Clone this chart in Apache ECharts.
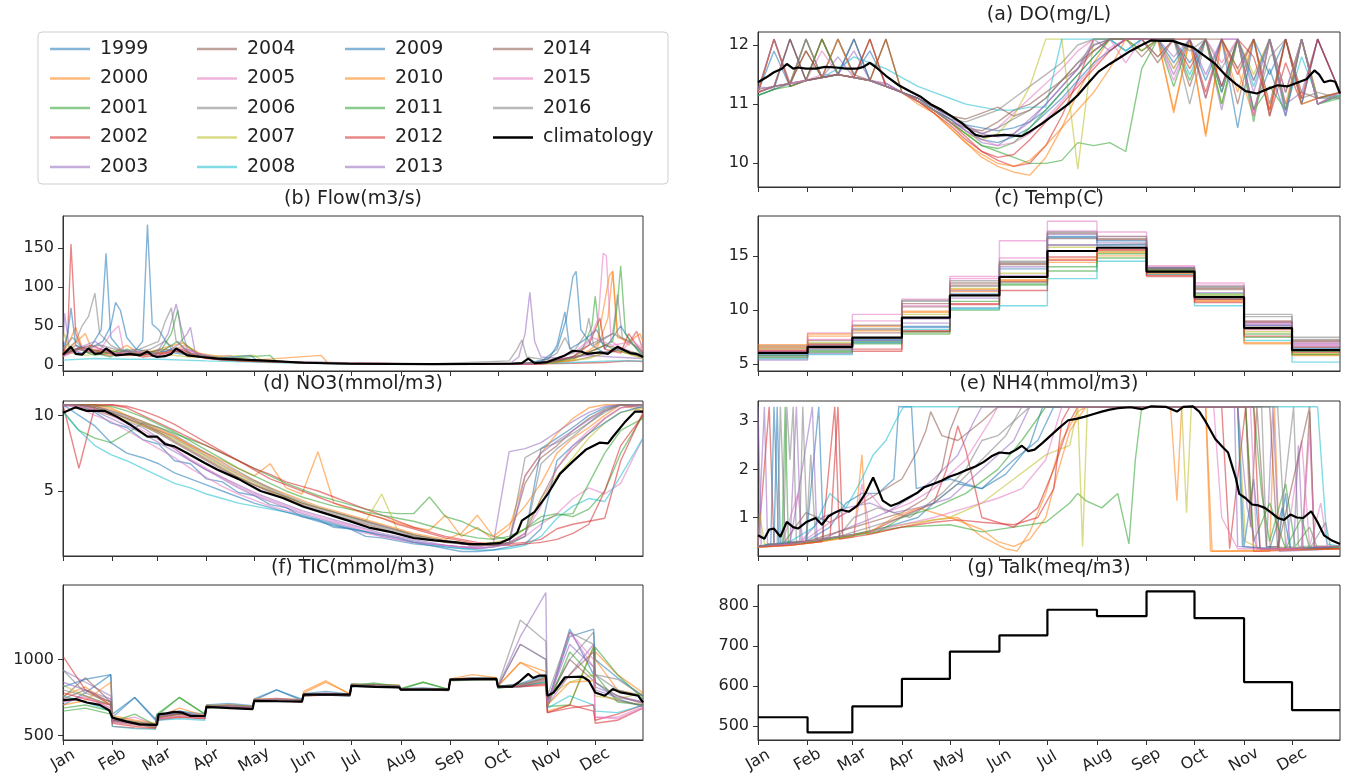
<!DOCTYPE html>
<html>
<head>
<meta charset="utf-8">
<script src="https://cdn.jsdelivr.net/npm/echarts@6/dist/echarts.min.js"></script>
<style>
  html, body { margin: 0; padding: 0; background: #fff; }
  #chart { width: 1345px; height: 780px; }
</style>
</head>
<body>
<div id="chart"></div>
<script>
// ---------- calendar ----------
const MONTHS = ['Jan','Feb','Mar','Apr','May','Jun','Jul','Aug','Sep','Oct','Nov','Dec'];
const MONTH_START = [0,31,59,90,120,151,181,212,243,273,304,334];
const YEARS = ['1999','2000','2001','2002','2003','2004','2005','2006','2007','2008',
               '2009','2010','2011','2012','2013','2014','2015','2016'];

// ---------- (a) DO (mg/L): one value every 10 days (days 0..350, 364) ----------
const doYears = [
  [11.2,11.9,11.3,12.1,11.45,12.1,11.5,11.9,11.35,11.2,11.1,10.95,10.8,10.65,10.6,10.55,10.6,10.7,10.9,11.2,11.5,11.8,12.1,11.9,12.1,12.1,12.1,11.7,12.1,11.3,12.1,10.9,11.6,10.8,12.1,11.0,11.15],
  [11.2,11.3,12.1,11.4,12.1,11.5,11.45,12.1,11.3,11.2,11.0,10.85,10.6,10.35,10.1,9.95,9.85,9.8,10.1,10.6,11.2,11.7,12.1,12.1,11.9,12.1,10.9,12.1,10.5,12.1,11.6,10.8,12.1,11.0,12.1,11.1,11.2],
  [11.15,11.25,11.35,11.9,11.45,11.5,12.1,11.4,11.3,11.2,11.05,10.9,10.7,10.5,10.3,10.2,10.1,10.0,10.0,10.05,10.35,10.3,10.35,10.2,11.6,12.1,12.1,11.4,12.1,11.2,12.1,10.9,11.3,10.9,12.1,11.0,11.15],
  [11.2,12.1,11.3,11.4,12.1,11.5,11.45,11.4,12.1,11.2,11.05,10.9,10.7,10.45,10.2,10.05,9.95,10.0,10.3,10.8,11.4,12.1,12.1,12.1,12.1,11.8,12.1,12.1,11.2,12.1,11.5,12.1,10.8,11.7,11.0,12.1,11.2],
  [11.3,11.25,11.35,12.1,11.45,11.5,11.9,11.4,11.35,11.2,11.1,10.95,10.75,10.55,10.35,10.3,10.5,10.75,11.0,11.3,11.6,12.1,11.9,12.1,12.1,12.1,11.5,12.1,12.1,10.9,12.1,11.4,12.1,11.0,11.2,12.1,11.2],
  [11.2,12.1,11.3,11.4,11.45,12.1,11.5,11.4,11.3,11.2,11.05,10.9,10.7,10.6,10.55,10.7,10.9,11.0,11.2,11.4,11.6,11.9,12.1,12.1,11.8,12.1,12.1,11.3,12.1,12.1,11.0,12.1,10.8,12.1,11.0,11.1,11.2],
  [11.25,11.3,12.1,11.4,11.5,11.5,12.1,11.4,11.35,11.2,11.05,10.9,10.75,10.6,10.5,10.6,10.85,11.1,11.35,11.6,11.9,12.1,12.1,11.7,12.1,12.1,11.6,12.1,11.1,12.1,12.1,10.8,12.1,11.2,12.1,11.0,11.2],
  [11.2,11.3,11.35,11.4,12.1,11.5,11.45,12.1,11.3,11.2,11.05,10.9,10.75,10.7,10.8,10.9,11.1,11.3,11.5,11.7,12.0,12.1,12.1,12.1,12.1,11.8,12.1,11.0,12.1,11.6,12.1,10.9,11.8,12.1,11.1,11.2,11.1],
  [11.2,11.3,11.35,12.1,11.45,11.5,11.45,11.4,12.1,11.2,11.05,10.9,10.7,10.5,10.4,10.5,10.8,11.3,12.1,12.1,9.9,12.1,12.1,12.1,12.1,12.1,11.6,12.1,12.1,11.0,12.1,11.5,12.1,10.9,12.1,11.1,11.15],
  [11.2,11.3,11.35,11.4,11.45,11.6,11.8,11.7,11.6,11.45,11.3,11.2,11.1,11.0,10.95,10.9,10.9,10.95,10.95,12.1,12.1,12.1,12.1,11.9,12.1,12.1,12.1,11.5,12.1,11.2,12.1,11.3,12.1,10.9,11.8,11.1,11.15],
  [11.15,11.25,12.1,11.4,11.45,11.5,12.1,11.4,11.3,11.2,11.1,10.9,10.75,10.55,10.4,10.35,10.45,10.6,10.85,11.1,11.4,11.7,11.9,12.1,12.1,12.1,11.7,12.1,11.4,12.1,10.6,12.1,11.5,12.1,11.0,12.1,11.2],
  [11.2,12.1,11.35,11.4,11.45,12.1,11.45,11.4,11.3,11.2,11.05,10.85,10.6,10.35,10.15,10.0,9.95,10.05,10.3,10.6,10.9,11.2,11.6,12.1,12.1,12.1,10.85,12.1,10.45,12.1,11.2,12.1,10.9,12.1,11.0,11.1,11.2],
  [11.15,11.25,11.3,11.4,12.1,11.5,11.45,11.4,11.3,11.2,11.05,10.9,10.7,10.5,10.3,10.25,10.35,10.6,10.9,11.2,11.5,11.8,12.1,12.1,11.9,12.1,11.3,12.1,12.1,11.0,12.1,10.7,12.1,11.2,12.1,11.0,11.1],
  [11.2,11.3,11.35,11.9,11.45,11.5,11.45,12.1,11.3,11.2,11.05,10.85,10.65,10.4,10.2,10.1,10.15,10.4,10.7,11.0,11.3,11.6,11.9,12.1,12.1,12.1,12.1,11.6,12.1,11.3,12.1,11.8,10.9,12.1,11.1,12.1,11.2],
  [11.25,12.1,11.35,11.4,11.45,11.8,11.45,11.4,11.3,11.2,11.1,10.95,10.8,10.65,10.5,10.45,10.5,10.7,11.0,11.3,11.6,12.0,12.1,12.1,12.1,12.1,11.8,12.1,11.5,12.1,12.1,11.2,12.1,10.8,12.1,11.0,11.2],
  [11.2,11.3,12.1,11.4,11.45,11.5,11.45,11.4,12.1,11.2,11.1,10.95,10.8,10.75,10.85,10.95,10.8,10.9,11.1,11.4,11.7,11.9,12.1,12.1,12.1,11.7,12.1,12.1,11.1,12.1,11.6,12.1,11.0,12.1,11.2,11.1,11.2],
  [11.2,11.3,11.35,11.4,11.9,11.5,11.45,11.4,11.3,11.2,11.05,10.9,10.7,10.55,10.4,10.3,10.35,10.5,10.75,11.05,11.35,11.65,11.95,12.1,12.1,12.1,11.4,12.1,12.1,11.7,12.1,10.8,12.1,11.2,12.1,11.0,11.2],
  [11.25,11.3,11.35,12.1,11.45,11.5,11.45,11.4,11.3,11.2,11.1,10.95,10.8,10.6,10.5,10.6,10.75,10.9,11.1,11.4,11.7,12.0,12.1,12.1,12.1,12.1,12.1,11.9,12.1,11.2,12.1,11.4,12.1,10.9,12.1,11.1,11.1]
];
const doClim = [[0,11.37],[5,11.45],[10,11.54],[15,11.6],[18,11.68],[22,11.6],[25,11.62],[30,11.6],[36,11.6],[42,11.63],[49,11.62],[55,11.6],[62,11.6],[66,11.63],[70,11.7],[74,11.62],[80,11.48],[88,11.32],[95,11.22],[102,11.12],[108,11.0],[115,10.9],[122,10.78],[128,10.67],[133,10.55],[136,10.48],[141,10.45],[148,10.47],[154,10.48],[160,10.47],[165,10.46],[169,10.52],[173,10.59],[178,10.68],[183,10.78],[188,10.88],[194,11.0],[200,11.15],[207,11.37],[213,11.55],[220,11.68],[226,11.78],[233,11.9],[240,12.0],[246,12.08],[252,12.07],[259,12.07],[265,12.02],[272,11.96],[279,11.82],[286,11.68],[292,11.5],[299,11.34],[305,11.22],[312,11.18],[318,11.25],[325,11.32],[331,11.3],[338,11.37],[343,11.42],[348,11.57],[351,11.5],[354,11.37],[358,11.4],[361,11.38],[364,11.18]];

// ---------- (b) Flow (m3/s): [day, value] pairs ----------
const flowYears = [
  [[0,12],[6,18],[12,14],[18,25],[24,45],[27,143],[30,35],[36,20],[44,15],[50,30],[53,180],[56,52],[60,45],[64,32],[70,15],[80,12],[95,8],[120,5],[160,2],[220,1],[285,1],[300,4],[310,20],[316,60],[320,113],[322,120],[325,45],[332,25],[340,15],[350,20],[364,10]],
  [[0,15],[4,30],[8,48],[12,22],[20,18],[30,14],[40,25],[50,12],[60,20],[75,28],[85,15],[100,10],[120,6],[162,12],[166,3],[200,1],[285,1],[305,3],[320,8],[335,20],[342,60],[345,120],[348,40],[355,25],[360,43],[364,20]],
  [[0,12],[10,20],[20,15],[30,10],[40,20],[50,12],[60,15],[72,30],[80,12],[100,8],[130,12],[134,4],[170,2],[230,1],[290,1],[310,3],[325,15],[332,50],[334,88],[337,30],[345,20],[355,15],[364,10]],
  [[0,10],[3,40],[5,155],[8,40],[12,20],[20,15],[30,12],[40,18],[50,10],[60,12],[75,20],[85,10],[100,6],[130,4],[180,2],[240,1],[295,1],[320,2],[340,3],[355,5],[364,4]],
  [[0,25],[1,66],[4,20],[12,15],[24,20],[36,12],[48,15],[60,12],[72,25],[78,40],[80,48],[83,15],[100,8],[140,4],[200,1],[280,1],[286,10],[290,40],[293,93],[296,30],[300,10],[315,8],[330,12],[345,10],[364,8]],
  [[0,12],[8,25],[16,15],[28,20],[40,12],[56,15],[70,18],[85,10],[110,6],[150,3],[210,1],[290,1],[320,5],[335,12],[348,18],[364,10]],
  [[0,10],[10,20],[22,15],[30,40],[35,50],[38,18],[50,12],[62,15],[75,22],[90,10],[105,12],[110,6],[150,3],[220,1],[300,2],[320,10],[330,30],[336,60],[339,143],[341,140],[344,30],[352,20],[360,43],[364,18]],
  [[0,15],[8,30],[12,50],[16,62],[20,92],[23,40],[30,25],[40,15],[55,20],[64,30],[72,18],[85,10],[110,5],[160,2],[230,1],[280,5],[285,20],[288,32],[291,10],[305,6],[320,15],[335,30],[345,40],[348,90],[351,35],[358,25],[364,15]],
  [[0,30],[1,40],[5,15],[15,12],[30,18],[45,12],[60,14],[80,10],[120,12],[126,4],[160,2],[230,1],[300,1],[330,8],[345,20],[364,8]],
  [[0,6],[20,8],[40,7],[60,7],[90,5],[130,3],[200,1],[290,1],[320,3],[345,5],[364,5]],
  [[0,20],[3,40],[5,73],[8,25],[16,20],[25,30],[30,50],[33,80],[36,70],[40,35],[46,20],[58,15],[70,20],[80,12],[95,8],[118,12],[122,5],[160,2],[230,1],[290,1],[305,8],[310,25],[315,68],[318,20],[326,30],[335,45],[340,20],[350,50],[356,30],[364,12]],
  [[0,15],[6,25],[14,40],[18,20],[28,15],[40,12],[52,18],[64,15],[76,25],[90,10],[110,5],[160,2],[240,1],[300,1],[320,6],[335,25],[343,115],[345,120],[348,35],[356,30],[362,40],[364,30]],
  [[0,15],[10,20],[20,12],[35,18],[50,14],[62,20],[68,40],[72,70],[75,30],[85,12],[100,8],[140,4],[190,2],[250,1],[300,2],[320,8],[335,20],[345,30],[348,80],[350,127],[353,40],[360,20],[364,10]],
  [[0,12],[8,20],[18,25],[30,15],[45,12],[60,14],[75,18],[90,8],[120,4],[200,1],[295,1],[320,10],[330,25],[337,60],[340,20],[350,15],[355,40],[360,25],[364,15]],
  [[0,15],[8,20],[20,30],[30,15],[45,18],[58,12],[66,40],[71,78],[74,50],[78,20],[90,10],[120,5],[180,2],[250,1],[300,2],[320,10],[335,15],[350,20],[364,10]],
  [[0,14],[10,22],[22,18],[35,12],[50,15],[65,20],[80,12],[100,6],[150,3],[220,1],[300,1],[325,12],[340,25],[352,20],[364,12]],
  [[0,12],[10,18],[20,22],[32,14],[46,16],[60,12],[76,20],[95,8],[140,4],[220,1],[300,1],[322,18],[332,35],[345,25],[358,30],[364,20]],
  [[0,20],[6,35],[12,22],[24,25],[36,18],[48,20],[60,30],[64,55],[68,73],[71,30],[80,15],[100,8],[140,3],[220,1],[300,3],[310,15],[315,35],[320,15],[328,40],[330,60],[333,25],[345,40],[355,30],[364,18]]
];
const flowClim = [[0,13],[5,23],[8,14],[12,13],[16,21],[20,14],[24,15],[27,21],[33,12],[38,13],[42,14],[48,12],[53,17],[56,12],[59,10],[64,11],[68,14],[71,21],[75,16],[78,12],[87,10],[97,8],[113,6.5],[130,5],[151,2.6],[179,1.3],[233,0.9],[282,1.3],[288,2],[292,8],[296,2],[304,3.5],[310,8],[315,12],[320,18],[325,17],[329,14],[333,15],[337,16],[342,14],[345,19],[348,23],[352,19],[356,15],[360,14],[364,10]];

// ---------- (c) Temp (C): monthly means ----------
const tempYears = [
  [5.9,6.4,7.2,8.5,10.2,12.6,16.8,16.4,13.6,11.0,8.6,6.5],
  [6.8,7.6,8.5,9.8,11.7,12.8,14.7,15.3,13.3,10.8,7.0,5.9],
  [5.6,6.1,6.9,7.8,10.0,12.3,13.6,14.8,13.5,11.3,7.5,6.2],
  [6.2,6.5,6.2,8.0,10.6,12.6,14.9,15.6,13.2,11.0,8.2,6.6],
  [5.8,6.6,7.0,9.2,11.8,14.0,17.0,16.2,13.8,11.6,8.8,6.9],
  [6.5,6.9,7.9,10.3,12.3,14.3,16.6,16.6,13.7,11.9,9.0,7.2],
  [6.1,7.9,9.6,11.0,13.1,16.4,18.2,17.2,14.1,12.5,8.9,7.0],
  [5.7,6.3,8.3,10.9,12.7,14.4,16.0,16.1,13.9,12.1,9.6,7.5],
  [6.4,7.0,7.4,9.6,12.0,13.4,15.8,15.4,13.6,11.4,8.0,6.0],
  [5.5,5.9,7.0,8.2,10.1,10.4,12.9,14.5,13.3,10.4,7.2,5.2],
  [6.0,6.7,7.3,8.4,11.5,13.8,16.7,16.0,13.9,11.2,8.3,6.4],
  [6.6,7.8,8.1,9.9,11.9,12.7,14.4,15.0,13.4,10.9,6.9,5.8],
  [5.8,6.2,7.1,8.0,10.8,12.4,14.0,15.2,13.7,11.5,7.8,5.9],
  [6.3,6.8,6.4,8.1,10.5,11.8,14.6,15.5,13.1,10.7,7.6,6.1],
  [5.4,6.0,7.2,8.8,11.1,13.2,16.0,15.8,13.5,11.2,8.6,6.7],
  [6.7,7.2,8.6,10.6,12.5,14.2,17.1,16.5,13.8,12.0,8.9,7.1],
  [6.2,7.3,9.0,10.4,12.9,14.8,17.3,16.8,14.0,12.3,8.7,6.8],
  [6.0,6.5,8.2,10.8,12.2,14.5,17.2,16.8,13.9,12.2,9.4,7.3]
];
const tempClim = [6.05,6.6,7.45,9.3,11.35,13.05,15.45,15.75,13.55,11.2,8.35,6.3];

// ---------- (d) NO3 (mmol/m3): one value every 10 days ----------
const no3Years = [
  [10.7,10.7,10.2,9.5,9.2,8.4,8.1,7.0,6.8,5.8,5.6,4.9,4.7,4.1,3.9,3.3,3.1,2.6,2.5,2.0,1.9,1.7,1.5,1.4,1.3,1.2,1.2,1.3,1.5,2.0,7.8,8.5,9.2,10.0,10.5,10.7,10.7],
  [10.7,10.7,10.7,10.5,10.0,9.4,9.0,8.6,8.0,7.5,7.0,6.5,6.0,6.8,5.2,4.8,7.6,4.2,3.8,3.5,3.2,2.9,2.6,2.4,3.4,2.0,2.6,1.8,2.5,6.0,7.5,8.8,9.8,10.5,10.7,10.7,10.3],
  [10.3,9.0,8.5,8.2,8.8,9.5,9.2,8.8,8.4,8.0,7.5,7.0,6.5,6.0,5.5,5.1,4.7,4.4,4.1,3.8,3.6,3.5,3.5,4.6,3.3,3.0,2.5,2.0,1.8,2.5,3.3,3.5,3.3,3.8,5.0,7.5,10.0],
  [10.7,6.5,10.6,10.7,10.5,10.0,9.5,9.0,8.5,8.0,7.5,7.0,6.5,6.1,5.6,5.3,5.0,4.6,4.2,3.8,3.4,3.0,2.6,2.3,2.0,1.8,1.6,1.5,1.5,1.6,1.8,2.5,2.8,3.0,3.2,7.0,10.2],
  [10.6,10.7,10.4,10.0,9.6,9.2,8.5,7.8,7.0,6.4,5.8,5.2,4.7,4.3,3.9,3.5,3.2,2.9,2.6,2.3,2.0,1.8,1.6,1.5,1.4,1.3,1.3,1.5,7.6,7.8,8.2,8.9,9.6,10.2,10.6,10.7,10.7],
  [10.7,10.7,10.5,10.2,9.8,9.3,8.8,8.2,7.6,7.0,6.4,5.9,5.4,4.9,4.5,4.1,3.7,3.4,3.1,2.8,2.5,2.2,2.0,1.8,1.6,1.5,1.4,1.5,1.8,5.5,7.2,8.0,9.0,9.8,10.4,10.7,10.5],
  [10.7,10.5,10.0,9.6,9.0,8.4,7.8,7.2,6.5,5.9,5.3,4.8,4.4,4.0,3.7,3.4,3.1,2.8,2.5,2.2,2.0,1.8,1.6,1.5,1.4,1.3,1.3,1.4,1.6,2.0,2.8,3.5,4.5,5.2,4.8,5.5,8.5],
  [10.7,10.7,10.6,10.3,9.9,9.5,9.0,8.5,7.9,7.3,6.7,6.1,5.6,5.1,4.6,4.2,3.8,3.5,3.2,2.9,2.6,2.3,2.0,1.8,1.6,1.5,1.4,1.4,1.6,7.2,7.8,8.2,8.8,9.5,10.2,10.7,10.7],
  [10.7,10.6,10.3,10.0,9.7,9.3,8.9,8.4,7.8,7.2,6.6,6.0,5.5,5.0,4.6,4.2,3.9,3.6,3.3,3.0,4.8,2.4,2.1,1.9,1.7,1.6,1.5,1.6,1.8,2.5,4.5,6.0,7.2,8.5,9.5,10.2,10.5],
  [10.2,9.0,8.0,7.4,7.0,6.5,6.0,5.5,5.2,4.8,4.5,4.2,4.0,3.8,3.6,3.4,3.1,2.8,2.5,2.3,2.1,1.9,1.7,1.5,1.3,1.2,1.1,1.1,1.2,1.4,2.0,3.2,4.0,4.5,4.3,6.0,8.5],
  [10.7,10.0,9.3,8.2,7.5,7.2,6.8,6.2,5.8,5.4,5.0,4.6,4.2,3.9,3.6,3.3,3.0,2.7,2.5,2.3,2.1,1.9,1.6,1.4,1.2,1.0,1.0,1.1,1.3,1.5,2.5,7.0,8.0,8.8,9.5,10.2,10.6],
  [10.7,10.7,10.6,10.4,10.0,9.6,9.1,8.6,8.0,7.4,6.8,6.2,5.7,5.2,4.8,4.4,4.0,3.7,3.4,3.1,2.8,2.5,2.2,2.0,1.8,2.2,3.4,2.0,2.8,4.0,5.5,7.5,8.5,9.2,10.0,10.7,10.7],
  [10.7,10.7,10.7,10.6,10.3,9.9,9.4,8.9,8.3,7.7,7.1,6.5,6.0,5.5,5.0,4.6,4.3,4.0,3.8,3.6,3.4,3.2,3.0,2.7,2.4,2.1,1.9,1.8,2.0,2.5,3.0,3.4,3.5,5.5,7.5,9.0,9.8],
  [10.7,10.7,10.7,10.7,10.6,10.3,9.9,9.4,8.8,8.2,7.6,7.0,6.4,5.8,5.4,5.0,4.6,4.2,3.9,3.5,3.2,2.8,2.5,2.2,1.9,1.7,1.5,1.4,1.4,1.5,1.6,1.8,2.2,2.8,5.0,8.0,10.0],
  [10.7,10.6,10.3,9.8,9.3,8.8,8.2,7.6,7.0,6.4,5.9,5.4,4.9,4.5,4.1,3.7,3.4,3.1,2.8,2.5,2.2,2.0,1.8,1.6,1.4,1.3,1.2,1.3,1.5,6.0,7.5,8.3,9.0,9.7,10.3,10.7,10.7],
  [10.7,10.7,10.5,10.2,9.8,9.4,8.9,8.3,7.7,7.1,6.5,5.9,5.4,5.0,4.6,4.2,3.9,3.6,3.3,3.0,2.7,2.4,2.1,1.9,1.7,1.5,1.4,1.4,1.6,2.2,4.5,6.5,7.8,8.8,9.8,10.5,10.7],
  [10.7,10.6,10.4,10.0,9.5,9.0,8.4,7.8,7.1,6.5,5.9,5.3,4.8,4.4,4.0,3.6,3.3,3.0,2.7,2.4,2.1,1.9,1.7,1.5,1.4,1.3,1.2,1.3,1.5,2.2,4.0,6.5,8.0,9.0,9.8,10.5,10.7],
  [10.7,10.7,10.6,10.3,10.0,9.6,9.2,8.7,8.1,7.5,6.9,6.3,5.7,5.2,4.7,4.3,3.9,3.6,3.3,3.0,2.7,2.4,2.1,1.9,1.7,1.5,1.4,1.4,1.5,2.0,6.8,7.8,8.6,9.5,10.3,10.7,10.7]
];
const no3Clim = [[0,10.18],[8,10.53],[15,10.3],[26,10.3],[34,9.9],[42,9.4],[53,8.6],[59,8.6],[64,8.1],[70,7.95],[78,7.5],[89,6.85],[97,6.4],[110,5.8],[124,5.0],[138,4.54],[151,3.96],[165,3.5],[179,3.04],[192,2.58],[206,2.28],[220,1.89],[233,1.73],[247,1.6],[255,1.48],[266,1.5],[274,1.55],[280,1.82],[285,2.23],[288,3.04],[296,3.62],[304,4.77],[312,6.15],[320,6.96],[328,7.72],[337,8.2],[342,8.15],[345,8.57],[353,9.6],[359,10.25],[364,10.25]];

// ---------- (e) NH4 (mmol/m3): [day, value] pairs ----------
const nh4Years = [
  [[0,0.4],[10,0.45],[12,3.3],[14,0.45],[30,0.5],[45,0.8],[55,1.3],[65,1.5],[75,1.5],[85,1.8],[88,3.3],[96,3.3],[99,1.6],[120,1.8],[140,1.6],[160,2.2],[175,2.6],[185,3.3],[300,3.3],[304,0.4],[310,1.8],[314,0.35],[325,0.4],[330,1.5],[333,0.35],[364,0.4]],
  [[0,0.38],[20,0.42],[40,0.5],[60,0.6],[65,2.3],[68,0.65],[90,0.8],[110,0.95],[125,1.0],[140,0.6],[155,0.35],[162,0.3],[170,0.7],[180,1.5],[190,2.6],[200,3.2],[205,3.3],[258,3.3],[262,1.35],[265,3.3],[280,3.3],[284,0.3],[320,0.3],[323,3.3],[326,0.35],[364,0.38]],
  [[0,0.4],[20,0.45],[40,0.55],[60,0.65],[90,0.8],[120,0.85],[140,0.7],[160,0.8],[180,0.9],[195,1.3],[200,1.5],[205,1.35],[215,1.2],[225,1.5],[232,0.45],[236,2.2],[240,3.3],[310,3.3],[315,1.5],[320,0.5],[330,1.7],[336,0.4],[345,0.8],[350,0.35],[364,0.4]],
  [[0,0.4],[7,3.3],[10,0.45],[30,0.5],[45,0.55],[50,3.3],[53,0.6],[70,0.7],[95,1.1],[110,1.3],[118,2.0],[125,2.9],[130,2.4],[140,1.0],[160,0.8],[175,1.2],[185,2.0],[195,3.0],[200,3.3],[290,3.3],[295,0.35],[305,3.3],[310,0.3],[364,0.35]],
  [[0,3.3],[2,0.4],[20,0.45],[24,3.3],[27,0.5],[40,1.0],[55,1.2],[70,1.3],[85,1.1],[100,1.2],[120,1.4],[140,2.0],[160,2.6],[170,3.3],[298,3.3],[300,0.4],[318,0.35],[322,3.3],[326,0.3],[364,0.35]],
  [[0,0.38],[15,0.42],[30,1.1],[45,0.9],[60,1.2],[75,1.5],[90,1.8],[100,2.4],[105,2.8],[108,3.2],[115,2.7],[125,2.6],[140,3.0],[150,3.3],[305,3.3],[308,0.8],[312,3.3],[318,0.4],[340,0.35],[345,3.2],[348,0.35],[364,0.4]],
  [[0,0.4],[15,0.45],[25,1.5],[28,0.5],[45,0.9],[60,1.2],[70,1.5],[80,1.1],[95,1.3],[110,1.6],[130,2.2],[145,3.0],[150,3.3],[285,3.3],[290,1.0],[300,0.35],[330,0.35],[340,2.6],[345,0.4],[352,1.3],[356,0.4],[364,0.38]],
  [[0,0.4],[16,0.45],[18,3.3],[20,2.2],[22,3.3],[24,0.5],[30,0.5],[33,2.3],[36,0.55],[50,0.6],[60,1.0],[75,1.2],[95,1.0],[115,1.5],[130,2.0],[140,2.6],[150,2.7],[160,3.0],[170,3.3],[315,3.3],[318,0.4],[325,0.35],[335,3.3],[338,0.4],[364,0.4]],
  [[0,0.4],[1,1.1],[4,0.45],[20,0.45],[40,0.55],[60,0.65],[80,0.8],[100,0.9],[120,1.0],[140,1.3],[160,1.8],[180,2.3],[195,2.5],[200,3.3],[203,0.4],[206,3.3],[265,3.3],[268,1.1],[271,3.3],[300,3.3],[305,0.5],[315,0.35],[364,0.35]],
  [[0,0.4],[20,0.5],[35,0.8],[45,1.5],[55,1.2],[65,1.8],[72,2.3],[80,2.6],[86,3.0],[91,3.3],[350,3.3],[356,0.45],[364,0.4]],
  [[0,0.4],[8,0.45],[10,3.3],[13,0.45],[30,0.5],[38,3.3],[41,0.55],[60,0.65],[80,0.8],[100,1.0],[110,1.3],[125,1.7],[140,1.6],[155,1.9],[170,2.5],[178,3.3],[300,3.3],[303,0.4],[320,0.35],[328,1.2],[333,0.35],[364,0.4]],
  [[0,0.38],[20,0.42],[40,0.5],[55,0.6],[70,0.7],[85,1.0],[100,1.2],[120,1.0],[140,0.75],[150,0.5],[160,0.4],[170,0.55],[180,1.0],[188,2.0],[195,2.8],[205,3.3],[280,3.3],[283,0.3],[364,0.35]],
  [[0,0.4],[15,0.45],[17,3.3],[19,0.45],[35,0.5],[55,0.6],[75,0.7],[90,1.0],[110,1.2],[130,1.5],[150,2.0],[165,2.6],[180,3.3],[305,3.3],[310,0.5],[320,1.3],[330,0.35],[340,1.0],[345,0.35],[364,0.38]],
  [[0,0.4],[20,0.42],[40,0.5],[48,3.3],[51,0.55],[70,0.65],[90,0.8],[110,0.9],[125,0.95],[140,0.9],[160,0.85],[175,1.0],[185,1.6],[190,3.0],[195,3.3],[310,3.3],[314,0.35],[364,0.35]],
  [[0,0.4],[4,3.3],[6,0.45],[20,0.45],[34,3.3],[37,0.5],[50,0.7],[65,0.9],[80,1.1],[95,1.4],[110,1.8],[125,2.3],[135,3.0],[140,3.3],[300,3.3],[306,1.2],[312,0.35],[335,0.35],[338,2.5],[341,0.35],[364,0.4]],
  [[0,0.4],[20,0.45],[30,0.5],[40,0.6],[55,0.75],[70,0.9],[90,1.1],[105,1.4],[115,2.0],[120,2.8],[126,3.3],[320,3.3],[325,0.35],[345,3.3],[348,0.4],[364,0.4]],
  [[0,0.4],[20,0.45],[40,0.55],[60,0.65],[65,1.7],[70,0.7],[90,0.85],[110,1.0],[130,1.2],[150,1.4],[165,1.6],[180,2.2],[190,3.3],[308,3.3],[312,0.35],[340,0.35],[345,2.8],[348,0.4],[364,0.4]],
  [[0,0.4],[12,0.45],[14,3.3],[17,0.5],[26,0.5],[28,3.3],[31,0.5],[50,0.6],[70,0.8],[90,1.0],[110,1.3],[125,1.7],[140,2.2],[155,2.7],[165,3.3],[325,3.3],[330,0.4],[345,0.35],[355,0.9],[358,0.4],[364,0.4]]
];
const nh4Clim = [[0,0.63],[4,0.56],[7,0.75],[10,0.77],[14,0.6],[18,0.91],[22,0.8],[25,0.77],[30,0.9],[36,0.99],[40,0.85],[44,1.02],[48,1.1],[52,1.16],[57,1.12],[62,1.24],[67,1.49],[72,1.83],[75,1.6],[78,1.35],[83,1.24],[88,1.3],[94,1.41],[100,1.52],[104,1.63],[110,1.7],[115,1.77],[120,1.85],[125,1.91],[130,1.98],[136,2.06],[141,2.15],[146,2.27],[151,2.35],[157,2.33],[161,2.4],[165,2.49],[169,2.38],[173,2.41],[178,2.55],[183,2.7],[188,2.85],[194,3.02],[199,3.05],[204,3.09],[210,3.15],[215,3.2],[220,3.24],[225,3.27],[233,3.29],[240,3.25],[246,3.31],[255,3.3],[262,3.2],[266,3.3],[272,3.31],[276,3.2],[280,2.99],[286,2.63],[291,2.45],[294,2.35],[296,2.13],[299,1.8],[301,1.49],[305,1.4],[309,1.27],[313,1.25],[317,1.2],[321,1.1],[325,0.99],[329,0.95],[333,1.06],[337,1.0],[341,0.99],[346,1.13],[350,0.9],[354,0.63],[359,0.52],[364,0.45]];

// ---------- (f) TIC (mmol/m3): start, mid and last day of each month ----------
const ticYears = [
  [700,780,900, 640,750,610, 630,660,625, 690,685,680, 730,800,730, 765,770,760, 825,830,815, 800,805,800, 865,870,872, 815,830,890, 700,1200,900, 850,740,690],
  [760,820,700, 620,590,560, 610,640,620, 700,690,685, 740,735,725, 790,860,770, 830,825,820, 805,810,800, 870,880,875, 825,980,920, 660,700,1090, 1000,800,760],
  [680,700,660, 600,580,550, 640,750,640, 690,700,690, 730,740,735, 760,770,765, 840,835,830, 810,850,805, 860,865,870, 810,830,850, 690,700,1080, 900,720,700],
  [1020,800,700, 560,550,545, 600,620,610, 680,690,680, 725,730,720, 760,765,760, 825,820,815, 800,800,795, 865,870,868, 815,820,830, 650,700,660, 600,640,700],
  [930,850,760, 600,580,570, 620,650,630, 690,685,680, 735,740,730, 765,770,765, 825,830,820, 800,805,800, 868,872,875, 820,1150,1440, 700,900,1100, 800,750,720],
  [750,880,720, 590,570,560, 620,640,625, 685,690,682, 728,735,728, 770,775,768, 830,828,822, 802,806,800, 870,875,872, 818,825,860, 720,1000,860, 780,730,700],
  [720,760,680, 600,620,570, 610,660,615, 690,700,688, 730,745,732, 768,780,770, 835,830,825, 808,810,805, 868,870,870, 820,840,870, 680,1180,950, 620,620,690],
  [930,780,720, 610,590,575, 630,640,620, 688,695,686, 732,738,730, 772,776,770, 838,832,825, 805,808,802, 872,876,878, 830,1260,1120, 740,1000,1180, 900,800,760],
  [830,760,700, 605,585,565, 620,635,618, 692,690,684, 734,730,728, 768,772,766, 828,826,820, 800,804,798, 866,870,868, 818,830,880, 760,850,900, 760,740,780],
  [760,720,660, 560,545,540, 600,610,600, 682,686,680, 726,730,724, 762,766,760, 822,820,816, 798,800,796, 864,868,866, 815,820,850, 680,760,700, 660,650,700],
  [820,870,900, 620,750,600, 640,660,640, 700,710,695, 740,800,738, 775,790,772, 832,835,828, 808,812,805, 870,878,876, 822,840,900, 720,1150,1200, 1000,880,760],
  [700,730,850, 630,600,580, 620,680,630, 695,700,690, 738,742,736, 780,850,775, 836,834,830, 806,808,804, 872,900,880, 826,980,880, 700,850,860, 1050,900,780],
  [660,680,640, 590,640,570, 630,750,640, 690,695,688, 732,736,730, 766,770,764, 826,845,822, 804,850,802, 866,872,870, 820,835,870, 690,1050,880, 1080,900,740],
  [780,740,700, 580,560,550, 610,625,612, 684,688,682, 728,732,726, 764,768,762, 824,822,818, 800,803,798, 866,870,868, 816,822,840, 650,680,700, 580,600,680],
  [850,800,740, 600,580,565, 625,645,628, 688,692,686, 732,736,730, 766,770,766, 826,828,820, 802,806,800, 868,872,872, 820,1100,1000, 720,1100,950, 820,760,720],
  [740,800,720, 600,580,560, 615,640,622, 688,690,684, 730,734,728, 770,774,768, 830,830,822, 804,806,800, 868,872,872, 820,828,880, 740,900,1050, 850,760,710],
  [720,750,680, 590,575,560, 610,630,615, 690,694,686, 732,740,730, 768,772,766, 830,828,822, 802,806,800, 868,870,870, 818,830,870, 700,1180,1000, 620,610,680],
  [800,760,700, 610,590,570, 630,650,625, 692,696,688, 734,738,732, 770,774,770, 834,832,824, 804,808,802, 870,874,874, 822,1100,1000, 760,1180,1100, 900,870,760]
];
const ticClim = [[0,732],[8,739],[15,717],[23,701],[29,666],[31,617],[40,591],[48,573],[57,569],[59,569],[60,639],[65,645],[70,655],[75,650],[80,628],[89,628],[90,688],[105,680],[119,673],[120,728],[135,725],[150,723],[151,768],[166,768],[180,768],[181,827],[196,820],[211,816],[212,801],[227,801],[242,801],[243,867],[258,870],[272,872],[273,821],[282,821],[286,850],[292,905],[295,878],[299,894],[303,894],[304,761],[308,783],[315,883],[326,887],[330,860],[334,783],[340,761],[345,805],[350,783],[356,772],[361,761],[364,717]];

// ---------- (g) Talk (meq/m3): monthly climatology ----------
const talkClim = [522,484,549,618,686,727,791,775,837,770,610,540];

// ---------- helpers ----------
const TAB10 = ['#1f77b4','#ff7f0e','#2ca02c','#d62728','#9467bd','#8c564b','#e377c2','#7f7f7f','#bcbd22','#17becf'];
function rgba(hex, a) {
  const n = parseInt(hex.slice(1), 16);
  return 'rgba(' + (n >> 16) + ',' + ((n >> 8) & 255) + ',' + (n & 255) + ',' + a + ')';
}
const YEAR_COLORS = YEARS.map((y, i) => rgba(TAB10[i % 10], 0.55));

const GRID10 = [];
for (let d = 0; d <= 350; d += 10) GRID10.push(d);
GRID10.push(364);
const TIC_DAYS = [];
MONTH_START.forEach((s, k) => {
  const e = k < 11 ? MONTH_START[k + 1] - 1 : 364;
  TIC_DAYS.push(s, s + 14, e);
});
const onDays = (vals, days) => vals.map((v, i) => [days[i], v]);
const monthly = vals => MONTH_START.map((d, k) => [d, vals[k]]).concat([[364, vals[11]]]);

// ---------- panel layout ----------
const LEFT_X = 63, LEFT_W = 580, RIGHT_X = 758, RIGHT_W = 582, PH = 155;
const ROW_TOP = [32, 216, 401, 585];
const FONT = "'DejaVu Sans', 'Liberation Sans', sans-serif";

const panels = [
  { title: '(a) DO(mg/L)',      col: 1, row: 0, y: [9.6, 12.22],  ticks: [10, 11, 12],
    years: doYears.map(v => onDays(v, GRID10)), clim: doClim },
  { title: '(b) Flow(m3/s)',    col: 0, row: 1, y: [-8, 191],     ticks: [0, 50, 100, 150],
    years: flowYears, clim: flowClim },
  { title: '(c) Temp(C)',       col: 1, row: 1, y: [4.38, 18.68], ticks: [5, 10, 15],
    years: tempYears.map(monthly), clim: monthly(tempClim), step: true },
  { title: '(d) NO3(mmol/m3)',  col: 0, row: 2, y: [0.7, 10.95],  ticks: [5, 10],
    years: no3Years.map(v => onDays(v, GRID10)), clim: no3Clim },
  { title: '(e) NH4(mmol/m3)',  col: 1, row: 2, y: [0.2, 3.42],   ticks: [1, 2, 3],
    years: nh4Years, clim: nh4Clim },
  { title: '(f) TIC(mmol/m3)',  col: 0, row: 3, y: [470, 1490],   ticks: [500, 1000],
    years: ticYears.map(v => onDays(v, TIC_DAYS)), clim: ticClim },
  { title: '(g) Talk(meq/m3)',  col: 1, row: 3, y: [465, 853],    ticks: [500, 600, 700, 800],
    years: [], clim: monthly(talkClim), step: true }
];

const grid = [], xAxis = [], yAxis = [], series = [], graphic = [];

panels.forEach((p, gi) => {
  const left = p.col === 0 ? LEFT_X : RIGHT_X;
  const width = p.col === 0 ? LEFT_W : RIGHT_W;
  const top = ROW_TOP[p.row];
  const bottomRow = p.row === 3;
  grid.push({ left, top, width, height: PH, show: true, borderColor: '#333', borderWidth: 1,
              backgroundColor: 'transparent', containLabel: false });
  xAxis.push({
    type: 'value', gridIndex: gi, min: 0, max: 364,
    axisLine: { show: true, onZero: false, lineStyle: { color: '#333', width: 1 } },
    axisTick: { show: true, customValues: MONTH_START, length: 5, lineStyle: { color: '#333' } },
    axisLabel: {
      show: bottomRow, customValues: MONTH_START, rotate: 30, margin: 20,
      align: 'center', verticalAlign: 'middle',
      formatter: v => MONTHS[MONTH_START.indexOf(v)] || '',
      fontFamily: FONT, fontSize: 16, color: '#222'
    },
    splitLine: { show: false }
  });
  yAxis.push({
    type: 'value', gridIndex: gi, min: p.y[0], max: p.y[1],
    axisLine: { show: true, onZero: false, lineStyle: { color: '#333', width: 1 } },
    axisTick: { show: true, customValues: p.ticks, length: 5, lineStyle: { color: '#333' } },
    axisLabel: { customValues: p.ticks, margin: 9, fontFamily: FONT, fontSize: 16, color: '#222',
                 formatter: v => String(v) },
    splitLine: { show: false }
  });
  p.years.forEach((data, i) => {
    series.push({
      type: 'line', name: YEARS[i], xAxisIndex: gi, yAxisIndex: gi, data,
      step: p.step ? 'end' : false, symbol: 'none', showSymbol: false, silent: true,
      color: YEAR_COLORS[i], lineStyle: { width: 1.4, color: YEAR_COLORS[i] },
      emphasis: { disabled: true }, z: 2
    });
  });
  series.push({
    type: 'line', name: 'climatology', xAxisIndex: gi, yAxisIndex: gi, data: p.clim,
    step: p.step ? 'end' : false, symbol: 'none', showSymbol: false, silent: true,
    color: '#000', lineStyle: { width: 2.2, color: '#000' },
    emphasis: { disabled: true }, z: 3
  });
  graphic.push({
    type: 'text', silent: true,
    style: { text: p.title, x: left + width / 2, y: top - 17, align: 'center', verticalAlign: 'middle',
             font: '19px ' + FONT, fill: '#222' }
  });
});

// legend frame
graphic.push({
  type: 'rect', silent: true, z: 0,
  shape: { x: 38, y: 32, width: 630, height: 152, r: 4 },
  style: { fill: '#fff', stroke: '#cfcfcf', lineWidth: 1 }
});

const legendCols = [YEARS.slice(0, 5), YEARS.slice(5, 10), YEARS.slice(10, 15), YEARS.slice(15).concat(['climatology'])];
const legendLeft = [45, 192, 340, 488];
const legend = legendCols.map((names, c) => ({
  data: names, orient: 'vertical', left: legendLeft[c], top: 34, z: 5,
  icon: 'rect', itemWidth: 40, itemHeight: 2.5, itemGap: 9.5, selectedMode: false,
  textStyle: { fontFamily: FONT, fontSize: 19, color: '#222', lineHeight: 20, padding: [0, 0, 0, 5] }
}));

const chart = echarts.init(document.getElementById('chart'), null, { renderer: 'canvas' });
chart.setOption({
  animation: false,
  backgroundColor: '#fff',
  grid, xAxis, yAxis, series, legend, graphic
});
</script>
</body>
</html>
